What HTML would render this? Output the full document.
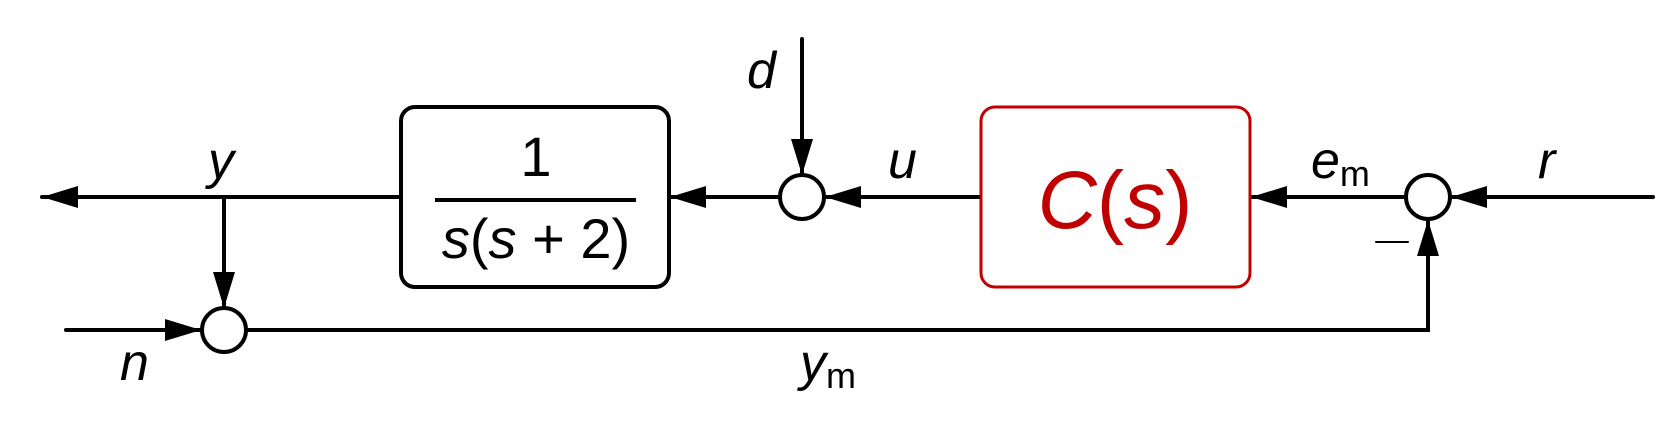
<!DOCTYPE html>
<html><head><meta charset="utf-8"><style>
html,body{margin:0;padding:0;background:#fff;width:1659px;height:435px;overflow:hidden}
text{font-family:"Liberation Sans",sans-serif;font-style:italic}
</style></head><body>
<svg width="1659" height="435" viewBox="0 0 1659 435">
<defs>
<marker id="ah" markerWidth="36" markerHeight="22" refX="36" refY="11" orient="auto" markerUnits="userSpaceOnUse">
<path d="M0,0 L36,11 L0,22 Z" fill="#000"/></marker>
</defs>
<g stroke="#000" stroke-width="4" fill="none" stroke-linecap="round">
<line x1="1653" y1="197" x2="1451" y2="197" marker-end="url(#ah)"/>
<line x1="1406" y1="197" x2="1251" y2="197" marker-end="url(#ah)"/>
<line x1="981" y1="197" x2="825" y2="197" marker-end="url(#ah)"/>
<line x1="802" y1="39" x2="802" y2="175" marker-end="url(#ah)"/>
<line x1="780" y1="197" x2="670" y2="197" marker-end="url(#ah)"/>
<line x1="401" y1="197" x2="42" y2="197" marker-end="url(#ah)"/>
<line x1="224" y1="197" x2="224" y2="308" marker-end="url(#ah)"/>
<line x1="66" y1="330" x2="201" y2="330" marker-end="url(#ah)"/>
<polyline points="247,330 1428,330 1428,220" marker-end="url(#ah)"/>
<circle cx="1428" cy="197" r="22" fill="#fff"/>
<circle cx="802" cy="197" r="22" fill="#fff"/>
<circle cx="224" cy="330" r="22" fill="#fff"/>
<rect x="401" y="107" width="268" height="180" rx="14" fill="#fff"/>
<rect x="981" y="107" width="269" height="180" rx="14" fill="#fff" stroke="#c00000" stroke-width="3"/>
<line x1="435" y1="200" x2="636" y2="200" stroke-width="4" stroke-linecap="butt"/>
<line x1="1376" y1="242" x2="1408" y2="242" stroke-width="2"/>
</g>
<text x="536" y="176" font-size="56" text-anchor="middle" style="font-style:normal">1</text>
<text x="536" y="258" font-size="56" text-anchor="middle">s<tspan style="font-style:normal">(</tspan>s <tspan style="font-style:normal">+ 2)</tspan></text>
<text x="1115" y="228" font-size="82" text-anchor="middle" fill="#c00000">C<tspan style="font-style:normal">(</tspan>s<tspan style="font-style:normal">)</tspan></text>
<text x="747" y="88" font-size="52">d</text>
<text x="208" y="178" font-size="52">y</text>
<text x="888" y="178" font-size="52">u</text>
<text x="1311" y="178" font-size="52">e<tspan font-size="36" style="font-style:normal" dy="8">m</tspan></text>
<text x="1538" y="178" font-size="52">r</text>
<text x="120" y="380" font-size="52">n</text>
<text x="800" y="380" font-size="52">y<tspan font-size="36" style="font-style:normal" dy="8">m</tspan></text>
</svg>
</body></html>
